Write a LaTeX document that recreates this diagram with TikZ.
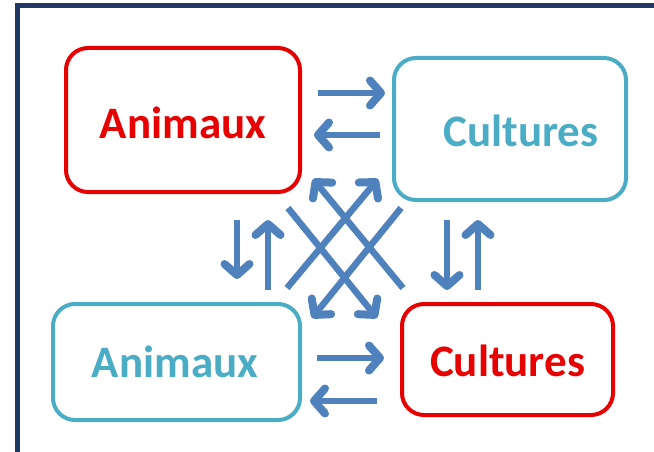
\documentclass[tikz,border=0pt]{standalone}
\usepackage{fontspec}
\setmainfont{Carlito}
\usetikzlibrary{arrows.meta}
\definecolor{frm}{RGB}{31,56,100}
\definecolor{rd}{RGB}{230,0,0}
\definecolor{cy}{RGB}{75,172,198}
\definecolor{ab}{RGB}{79,129,189}
\begin{document}
\begin{tikzpicture}[x=1pt,y=-1pt,
  box/.style={draw,line width=4pt,rounded corners=22pt,inner sep=0pt},
  lbl/.style={font=\fontsize{45}{54}\selectfont\bfseries,inner sep=0pt},
  arr/.style={ab,line width=6.5pt,-{Straight Barb[length=11pt,width=25pt,line width=8pt,round]}},
  xl/.style={ab,line width=6.5pt}]
\useasboundingbox (0,0) rectangle (654,452);
\fill[white] (0,0) rectangle (654,452);
\draw[frm,line width=5pt] (17.5,452) -- (17.5,6) -- (654,6);
% boxes
\node[box,rd,minimum width=234pt,minimum height=144pt] (a1) at (183,120) {};
\node[box,cy,minimum width=232pt,minimum height=142pt] (c1) at (510,129) {};
\node[box,cy,minimum width=247pt,minimum height=116pt] (a2) at (176.5,362) {};
\node[box,rd,minimum width=211pt,minimum height=111pt] (c2) at (507.5,359.5) {};
% labels
\node[lbl,rd] (ta1) at (183,123) {Animaux};
\node[lbl,cy] (tc1) at (521,131) {Cultures};
\node[lbl,cy] (ta2) at (175,362) {Animaux};
\node[lbl,rd] (tc2) at (507.5,361) {Cultures};
% arrow end points
\coordinate (h1s) at (318,93);  \coordinate (h1e) at (385,93);
\coordinate (h2s) at (380,135); \coordinate (h2e) at (314,135);
\coordinate (h3s) at (317,358); \coordinate (h3e) at (384,358);
\coordinate (h4s) at (377,401); \coordinate (h4e) at (310,401);
\coordinate (v1s) at (237,220); \coordinate (v1e) at (237,279);
\coordinate (v2s) at (268,290); \coordinate (v2e) at (268,220);
\coordinate (v3s) at (447,220); \coordinate (v3e) at (447,290);
\coordinate (v4s) at (478,290); \coordinate (v4e) at (478,220);
\coordinate (d1s) at (403,288); \coordinate (d1e) at (313,179);
\coordinate (d2s) at (287,288); \coordinate (d2e) at (378,179);
\coordinate (d3s) at (288,208); \coordinate (d3e) at (377,318);
\coordinate (d4s) at (401,208); \coordinate (d4e) at (312,318);
\foreach \p in {h1,h2,h3,h4,v1,v2,v3,v4,d1,d2,d3,d4}
  \draw[arr] (\p s) -- (\p e);
\end{tikzpicture}
\end{document}
